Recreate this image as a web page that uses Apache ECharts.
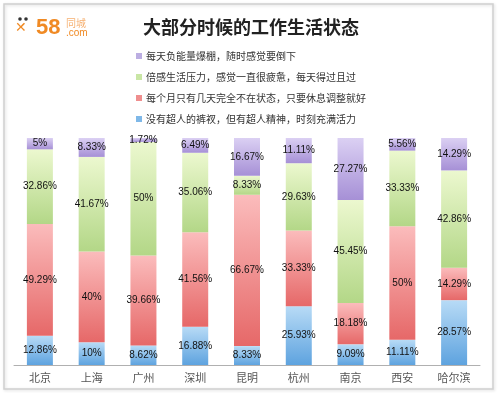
<!DOCTYPE html>
<html>
<head>
<meta charset="utf-8">
<script src="https://cdn.jsdelivr.net/npm/echarts@6/dist/echarts.min.js"></script>
<style>html,body{margin:0;padding:0;background:#fff;}#c{width:498px;height:393px;}</style>
</head>
<body>
<div id="c"></div>
<script>
var categories = ['北京','上海','广州','深圳','昆明','杭州','南京','西安','哈尔滨'];
var seriesNames = ['没有超人的裤衩，但有超人精神，时刻充满活力','每个月只有几天完全不在状态，只要休息调整就好','倍感生活压力，感觉一直很疲惫，每天得过且过','每天负能量爆棚，随时感觉要倒下'];
var blueVals = [12.86, 10, 8.62, 16.88, 8.33, 25.93, 9.09, 11.11, 28.57];
var redVals = [49.29, 40, 39.66, 41.56, 66.67, 33.33, 18.18, 50, 14.29];
var greenVals = [32.86, 41.67, 50, 35.06, 8.33, 29.63, 45.45, 33.33, 42.86];
var purpleVals = [5, 8.33, 1.72, 6.49, 16.67, 11.11, 27.27, 5.56, 14.29];

var chart = echarts.init(document.getElementById('c'));
function grad(a, b) {
  return new echarts.graphic.LinearGradient(0, 0, 0, 1, [{offset: 0, color: a}, {offset: 1, color: b}]);
}
var styles = [
  {c: grad('#b8dbf6', '#5ea3df'), legend: '#7fb8e8'},
  {c: grad('#fbbcbc', '#e66868'), legend: '#ef8e8e'},
  {c: grad('#ecf8cf', '#b3d787'), legend: '#c9e6a5'},
  {c: grad('#dbd0f3', '#a690d6'), legend: '#bcaee2'}
];
var vals = [blueVals, redVals, greenVals, purpleVals];
var series = vals.map(function (v, i) {
  return {
    name: seriesNames[i],
    type: 'bar',
    stack: 'all',
    barWidth: 26,
    data: v,
    itemStyle: {color: styles[i].c},
    label: {show: true, position: 'inside', formatter: '{c}%', fontSize: 10, color: '#111', fontFamily: 'Liberation Sans, Arial, sans-serif'}
  };
});
chart.setOption({
  animation: false,
  backgroundColor: '#fff',
  graphic: [
    {type: 'rect', shape: {x: 4, y: 4, width: 489, height: 385}, style: {fill: 'none', stroke: '#d0d0d0', lineWidth: 1.5, shadowBlur: 3, shadowColor: 'rgba(0,0,0,0.15)', shadowOffsetX: 1, shadowOffsetY: 1}},
    {type: 'text', left: 36, top: 17, style: {text: '58', fill: '#f08a24', font: 'bold 22px Liberation Sans, Arial, sans-serif'}},
    {type: 'text', left: 66, top: 18, style: {text: '同城', fill: '#f6b070', font: '10px Noto Sans CJK SC'}},
    {type: 'text', left: 66, top: 28, style: {text: '.com', fill: '#f08a24', font: '10px Liberation Sans, Arial, sans-serif'}},
    {type: 'circle', shape: {cx: 20, cy: 19, r: 1.8}, style: {fill: '#333'}},
    {type: 'circle', shape: {cx: 26, cy: 19, r: 1.8}, style: {fill: '#333'}},
    {type: 'text', left: 15, top: 21, style: {text: '✕', fill: '#f08a24', font: 'bold 14px DejaVu Sans'}}
  ],
  title: {
    text: '大部分时候的工作生活状态',
    left: 138, top: 13,
    textStyle: {fontSize: 18, fontWeight: 'bold', color: '#222', fontFamily: 'Noto Sans CJK SC'}
  },
  legend: {
    orient: 'vertical',
    left: 131, top: 46,
    itemWidth: 6, itemHeight: 6, itemGap: 11,
    icon: 'rect',
    data: [seriesNames[3], seriesNames[2], seriesNames[1], seriesNames[0]].map(function (n, k) {
      return {name: n, itemStyle: {color: styles[3 - k].legend}};
    }),
    textStyle: {fontSize: 10, color: '#333', fontFamily: 'Noto Sans CJK SC', padding: [0, 0, 0, -1]}
  },
  grid: {left: 14, right: 18, top: 138, bottom: 28},
  xAxis: {
    type: 'category', data: categories,
    axisLine: {lineStyle: {color: '#b0b0b0'}},
    axisTick: {show: false},
    axisLabel: {fontSize: 11, color: '#555', margin: 7, fontFamily: 'Noto Sans CJK SC'}
  },
  yAxis: {type: 'value', min: 0, max: 100, show: false, splitLine: {show: false}},
  series: series
});
</script>
</body>
</html>
